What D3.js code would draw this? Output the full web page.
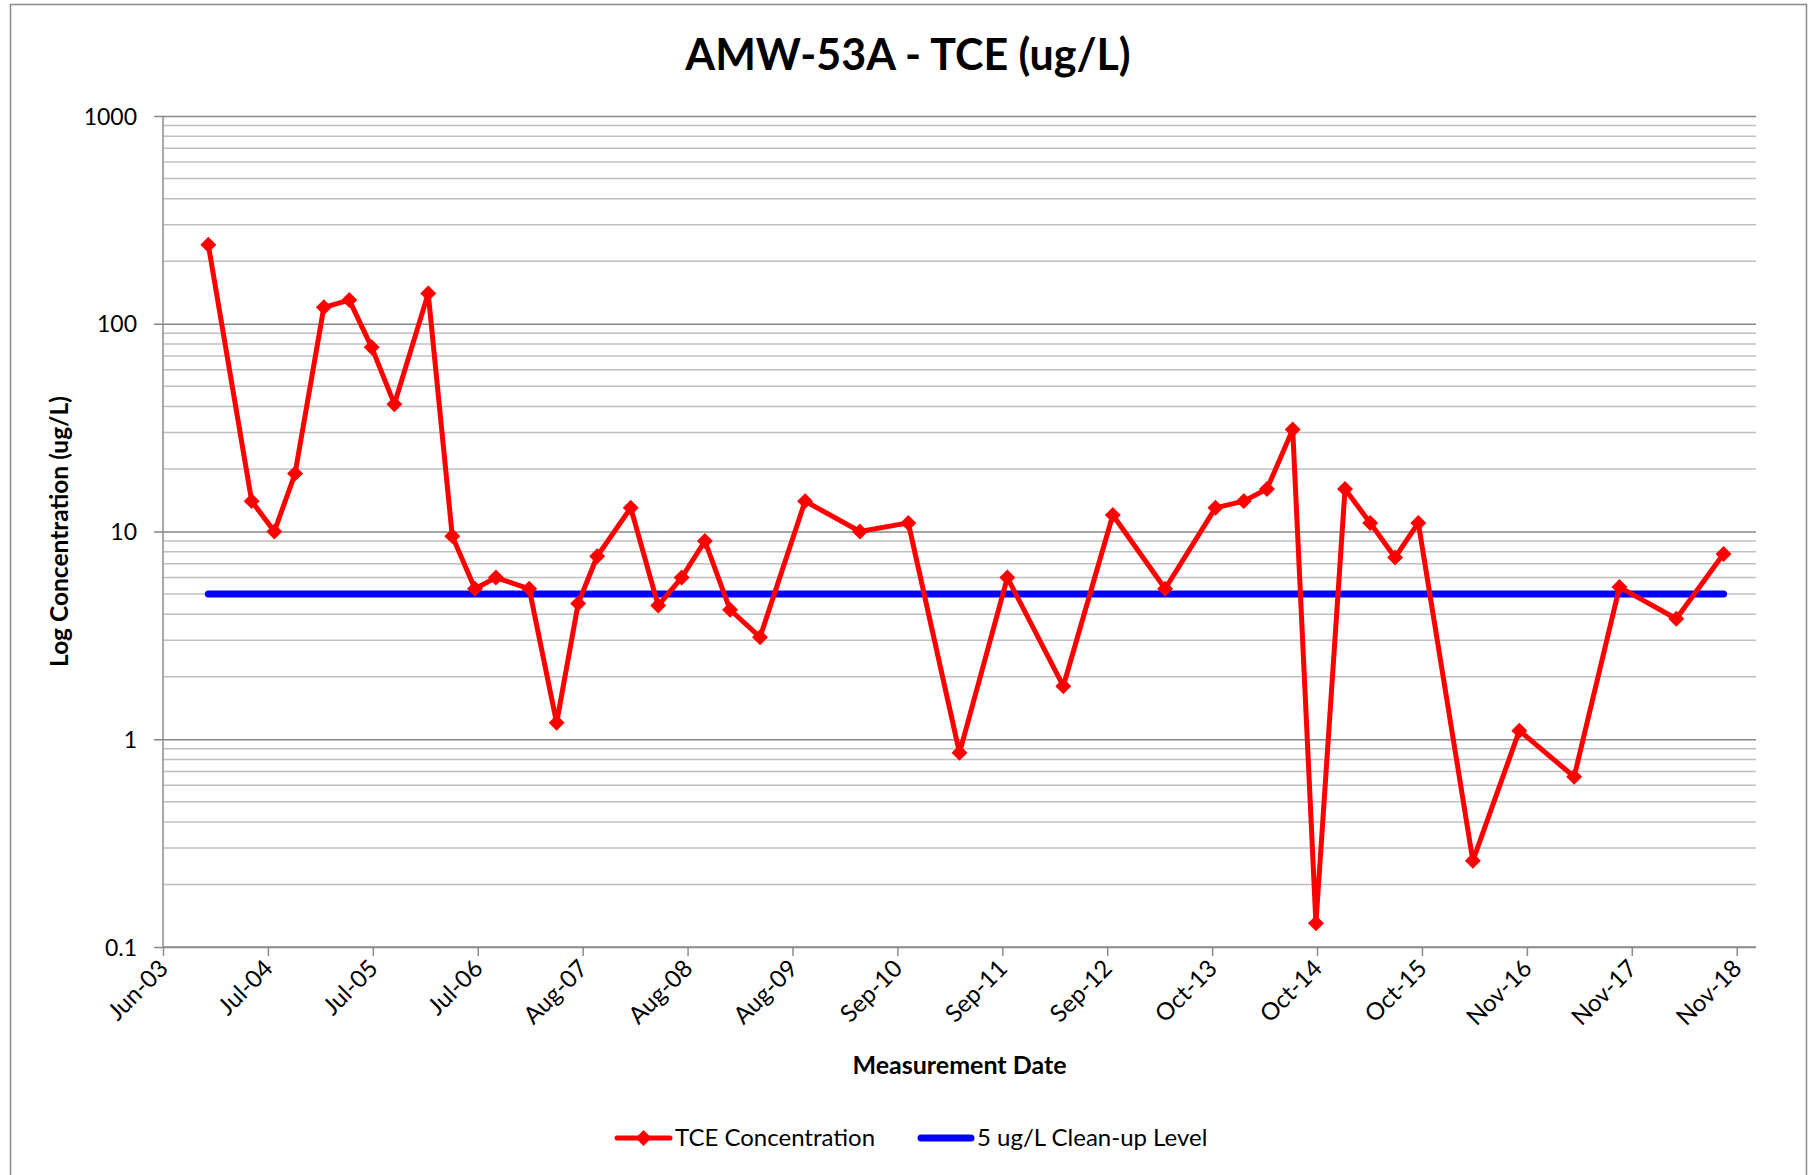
<!DOCTYPE html>
<html>
<head>
<meta charset="utf-8">
<script src="https://cdn.jsdelivr.net/npm/d3@7"></script>
<style>
  html, body { margin: 0; padding: 0; background: #fff; }
  svg { display: block; }
  text { font-family: Lato, "Open Sans", "DejaVu Sans", sans-serif; fill: #000; }
</style>
</head>
<body>
<svg id="chart" width="1810" height="1175"></svg>
<script>
// Sampling dates for AMW-53A
const sampleDates = [
  "2003-12-07", "2004-05-10", "2004-07-30", "2004-10-12", "2005-01-23",
  "2005-04-24", "2005-07-13", "2005-10-02", "2006-01-31", "2006-04-27",
  "2006-07-17", "2006-09-30", "2007-01-27", "2007-05-05", "2007-07-21",
  "2007-09-27", "2008-01-25", "2008-05-02", "2008-07-25", "2008-10-16",
  "2009-01-14", "2009-05-01", "2009-10-09", "2010-04-23", "2010-10-13",
  "2011-04-14", "2011-10-02", "2012-04-19", "2012-10-13", "2013-04-18",
  "2013-10-15", "2014-01-24", "2014-04-17", "2014-07-18", "2014-10-09",
  "2015-01-21", "2015-04-21", "2015-07-19", "2015-10-10", "2016-04-22",
  "2016-10-05", "2017-04-19", "2017-09-28", "2018-04-19", "2018-10-05"
];

// TCE concentration, ug/L
const tceValues = [
  240, 14, 10, 19, 120,
  130, 77, 41, 140, 9.5,
  5.3, 6.0, 5.3, 1.2, 4.5,
  7.6, 13, 4.4, 6.0, 9.0,
  4.2, 3.1, 14, 10, 11,
  0.86, 6.0, 1.8, 12, 5.3,
  13, 14, 16, 31, 0.13,
  16, 11, 7.5, 11, 0.26,
  1.1, 0.66, 5.4, 3.8, 7.8
];

// Clean-up level, ug/L
const cleanupLevel = 5;

// Date axis: bounds and tick dates (375-day major unit)
const axisStart = "2003-06-28";
const axisEnd = "2019-01-29";
const tickDates = [
  "2003-06-28", "2004-07-07", "2005-07-17", "2006-07-27", "2007-08-06",
  "2008-08-15", "2009-08-25", "2010-09-04", "2011-09-14", "2012-09-23",
  "2013-10-03", "2014-10-13", "2015-10-23", "2016-11-01", "2017-11-11",
  "2018-11-21"
];

// Log axis: decade ticks
const yTicks = [0.1, 1, 10, 100, 1000];

const parse = d3.utcParse("%Y-%m-%d");
const fmt = d3.utcFormat("%b-%y");

const svg = d3.select("#chart");
const W = 1810, H = 1175;
const plot = { left: 163, right: 1756, top: 116, bottom: 947 };

// Chart area border (left, top, right edges)
svg.append("path")
  .attr("d", `M10.5,${H} L10.5,4.5 L1806.5,4.5 L1806.5,${H}`)
  .attr("fill", "none")
  .attr("stroke", "#8c8c8c")
  .attr("stroke-width", 1.5);

const x = d3.scaleUtc()
  .domain([parse(axisStart), parse(axisEnd)])
  .range([plot.left, plot.right]);

const y = d3.scaleLog()
  .domain([0.1, 1000])
  .range([plot.bottom, plot.top]);

// Minor gridlines (2..9 within each decade)
const minorVals = [];
yTicks.slice(0, -1).forEach(d => {
  for (let k = 2; k <= 9; k++) minorVals.push(d * k);
});
svg.append("g")
  .selectAll("line")
  .data(minorVals)
  .join("line")
  .attr("x1", plot.left).attr("x2", plot.right)
  .attr("y1", d => y(d)).attr("y2", d => y(d))
  .attr("stroke", "#c0c0c0")
  .attr("stroke-width", 1.5);

// Major gridlines with left tick marks and labels
const yAxis = d3.axisLeft(y)
  .tickValues(yTicks)
  .tickFormat(d => String(d))
  .tickSize(-(plot.right - plot.left))
  .tickPadding(0);
const gy = svg.append("g")
  .attr("transform", `translate(${plot.left},0)`)
  .call(yAxis);
gy.select(".domain").remove();
gy.selectAll(".tick line")
  .attr("x1", -9)
  .attr("stroke", "#878787")
  .attr("stroke-width", 1.5);
gy.selectAll(".tick text")
  .attr("x", -26)
  .attr("dy", "0.35em")
  .style("font-family", "Lato, sans-serif")
  .style("font-size", "23px")
  .attr("fill", "#000");

// Vertical value-axis line
svg.append("line")
  .attr("x1", plot.left).attr("x2", plot.left)
  .attr("y1", plot.top).attr("y2", plot.bottom)
  .attr("stroke", "#8c8c8c")
  .attr("stroke-width", 1.5);

// Date axis
const xAxis = d3.axisBottom(x)
  .tickValues(tickDates.map(parse))
  .tickFormat(fmt)
  .tickSize(9)
  .tickSizeOuter(0);
const gx = svg.append("g")
  .attr("transform", `translate(0,${plot.bottom})`)
  .call(xAxis);
gx.select(".domain")
  .attr("stroke", "#8c8c8c")
  .attr("stroke-width", 1.5)
  .attr("d", `M${plot.left},0H${plot.right}`);
gx.selectAll(".tick line")
  .attr("stroke", "#8c8c8c")
  .attr("stroke-width", 1.5);
gx.selectAll(".tick text")
  .style("font-family", "Lato, sans-serif")
  .style("font-size", "24px")
  .attr("fill", "#000")
  .attr("text-anchor", "end")
  .attr("dy", null)
  .attr("y", 0)
  .attr("transform", "translate(6,23) rotate(-45)");

// Clean-up level line spanning the sampling period
const firstDate = parse(sampleDates[0]);
const lastDate = parse(sampleDates[sampleDates.length - 1]);
svg.append("line")
  .attr("x1", x(firstDate)).attr("x2", x(lastDate))
  .attr("y1", y(cleanupLevel)).attr("y2", y(cleanupLevel))
  .attr("stroke", "#0000ff")
  .attr("stroke-width", 7)
  .attr("stroke-linecap", "round");

// TCE concentration series
const series = sampleDates.map((d, i) => ({ date: parse(d), value: tceValues[i] }));
const line = d3.line()
  .x(d => x(d.date))
  .y(d => y(d.value));
svg.append("path")
  .datum(series)
  .attr("d", line)
  .attr("fill", "none")
  .attr("stroke", "#ff0000")
  .attr("stroke-width", 5)
  .attr("stroke-linejoin", "round");

const diamond = d3.symbol().type(d3.symbolDiamond2).size(110);
svg.append("g")
  .selectAll("path")
  .data(series)
  .join("path")
  .attr("transform", d => `translate(${x(d.date)},${y(d.value)})`)
  .attr("d", diamond)
  .attr("fill", "#ff0000")
  .attr("stroke", "#ff0000")
  .attr("stroke-width", 2);

// Titles
svg.append("text")
  .attr("x", 908).attr("y", 70)
  .attr("text-anchor", "middle")
  .style("font-size", "43px")
  .style("font-weight", "bold")
  .text("AMW-53A - TCE (ug/L)");

svg.append("text")
  .attr("x", (plot.left + plot.right) / 2).attr("y", 1074)
  .attr("text-anchor", "middle")
  .style("font-size", "25px")
  .style("font-weight", "bold")
  .text("Measurement Date");

svg.append("text")
  .attr("transform", `translate(68,${(plot.top + plot.bottom) / 2}) rotate(-90)`)
  .attr("text-anchor", "middle")
  .style("font-size", "24.5px")
  .style("font-weight", "bold")
  .text("Log Concentration (ug/L)");

// Legend
const legendY = 1138;
const lg = svg.append("g");
lg.append("line")
  .attr("x1", 617).attr("x2", 670)
  .attr("y1", legendY).attr("y2", legendY)
  .attr("stroke", "#ff0000").attr("stroke-width", 5)
  .attr("stroke-linecap", "round");
lg.append("path")
  .attr("transform", `translate(643.5,${legendY})`)
  .attr("d", diamond)
  .attr("fill", "#ff0000")
  .attr("stroke", "#ff0000")
  .attr("stroke-width", 2);
lg.append("text")
  .attr("x", 675).attr("y", legendY)
  .attr("dy", "0.35em")
  .style("font-size", "24px")
  .text("TCE Concentration");
lg.append("line")
  .attr("x1", 921).attr("x2", 971)
  .attr("y1", legendY).attr("y2", legendY)
  .attr("stroke", "#0000ff").attr("stroke-width", 7)
  .attr("stroke-linecap", "round");
lg.append("text")
  .attr("x", 977).attr("y", legendY)
  .attr("dy", "0.35em")
  .style("font-size", "24px")
  .text("5 ug/L Clean-up Level");
</script>
</body>
</html>
